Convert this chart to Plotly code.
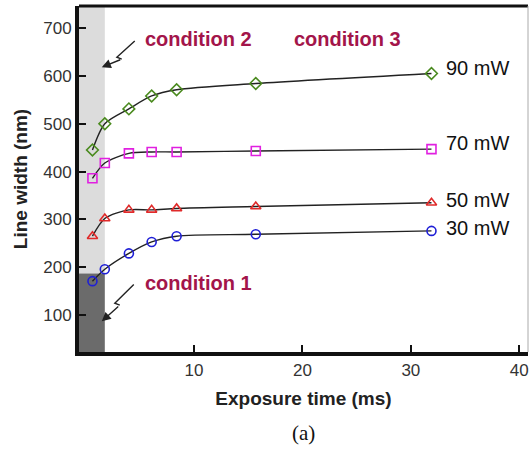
import plotly.graph_objects as go

# ---- data ----
exposure_ms = [0.64, 1.78, 4.0, 6.1, 8.4, 15.7, 31.9]
width_30mW = [171, 196, 229, 253, 265, 269, 276]
width_50mW = [265, 302, 320, 320, 323, 327, 335]
width_70mW = [386, 418, 438, 441, 441, 443, 447]
width_90mW = [445, 500, 531, 558, 571, 584, 605]
series_names = ["30 mW", "50 mW", "70 mW", "90 mW"]
series_colors = ["#1f1fd6", "#e02a2a", "#e020e0", "#4a8a1e"]
series_symbols = ["circle-open", "triangle-up-open", "square-open", "diamond-open"]
label_y = [282, 340, 459, 616]
x_ticks = [10, 20, 30, 40]
y_ticks = [100, 200, 300, 400, 500, 600, 700]

X_RANGE = [-0.6, 40.8]
Y_RANGE = [23, 746]
COND_EDGE = 1.78   # end of shaded conditions 1/2 (ms)
COND_SPLIT = 187   # boundary between condition 1 and condition 2 (nm)

fig = go.Figure()

# shaded condition regions
fig.add_shape(type="rect", xref="x", yref="y", x0=X_RANGE[0], x1=COND_EDGE,
              y0=COND_SPLIT, y1=Y_RANGE[1], fillcolor="#dcdcdc", line_width=0, layer="below")
fig.add_shape(type="rect", xref="x", yref="y", x0=X_RANGE[0], x1=COND_EDGE,
              y0=Y_RANGE[0], y1=COND_SPLIT, fillcolor="#6b6b6b", line_width=0, layer="below")

all_series = [width_30mW, width_50mW, width_70mW, width_90mW]
for name, ys, col, sym in zip(series_names, all_series, series_colors, series_symbols):
    fig.add_trace(go.Scatter(
        x=exposure_ms, y=ys, mode="lines+markers", name=name,
        line=dict(color="#222222", width=1.4, shape="spline", smoothing=0.8),
        marker=dict(symbol=sym, size=9, color=col, line=dict(width=1.6, color=col)),
        showlegend=False))

annotations = []
for name, ly in zip(series_names, label_y):
    annotations.append(dict(x=33.1, y=ly, xref="x", yref="y", text=name, showarrow=False,
                            xanchor="left", yanchor="middle",
                            font=dict(family="Liberation Sans, Arial", size=20, color="#111111")))

cond_font = dict(family="Liberation Sans, Arial", size=20, color="#a3154a")
annotations += [
    dict(x=10.43, y=677, xref="x", yref="y", text="<b>condition 2</b>", showarrow=False, font=cond_font),
    dict(x=24.2, y=677, xref="x", yref="y", text="<b>condition 3</b>", showarrow=False, font=cond_font),
    dict(x=10.43, y=168, xref="x", yref="y", text="<b>condition 1</b>", showarrow=False, font=cond_font),
    # arrow heads of squiggly arrows
    dict(x=1.5, y=618, ax=3.34, ay=635, xref="x", yref="y", axref="x", ayref="y",
         text="", showarrow=True, arrowhead=2, arrowsize=1.3, arrowwidth=1.4, arrowcolor="#222222"),
    dict(x=1.5, y=87, ax=3.16, ay=121, xref="x", yref="y", axref="x", ayref="y",
         text="", showarrow=True, arrowhead=2, arrowsize=1.3, arrowwidth=1.4, arrowcolor="#222222"),
    dict(x=0.5, y=-0.275, xref="paper", yref="paper", text="(a)", showarrow=False,
         font=dict(family="Liberation Serif, Times New Roman", size=21, color="#111111")),
]

# squiggle bodies of arrows
fig.add_shape(type="path", xref="x", yref="y", path="M 4.54 673 L 2.89 639 L 3.34 635",
              line=dict(color="#222222", width=1.4))
fig.add_shape(type="path", xref="x", yref="y", path="M 4.45 164 L 2.7 125 L 3.16 121",
              line=dict(color="#222222", width=1.4))

# top border (thick) and right edge (thin gray)
fig.add_shape(type="line", xref="paper", yref="paper", x0=0, x1=1, y0=1, y1=1,
              line=dict(color="#111111", width=3))
fig.add_shape(type="line", xref="paper", yref="paper", x0=1, x1=1, y0=0, y1=1,
              line=dict(color="#aaaaaa", width=1))

fig.update_layout(
    width=529, height=451,
    margin=dict(l=79, r=1, t=6, b=99, autoexpand=False),
    paper_bgcolor="white", plot_bgcolor="white",
    annotations=annotations,
    font=dict(family="Liberation Sans, Arial", color="#333333"),
    xaxis=dict(range=X_RANGE, tickvals=x_ticks, ticks="inside", ticklen=7, tickwidth=2,
               tickcolor="#111111", showline=True, linecolor="#111111", linewidth=4,
               showgrid=False, zeroline=False, automargin=False,
               tickfont=dict(size=17, color="#333333"),
               title=dict(text="<b>Exposure time (ms)</b>", standoff=13,
                          font=dict(size=19, color="#222222"))),
    yaxis=dict(range=Y_RANGE, tickvals=y_ticks, ticks="inside", ticklen=7, tickwidth=2,
               tickcolor="#111111", showline=True, linecolor="#111111", linewidth=4,
               showgrid=False, zeroline=False, automargin=False,
               tickfont=dict(size=17, color="#333333"),
               title=dict(text="<b>Line width (nm)</b>", standoff=12,
                          font=dict(size=19, color="#222222"))),
)

fig.write_html("out.html", config={"displayModeBar": False},
               post_script="document.body.style.margin='0';document.body.style.overflow='hidden';")
